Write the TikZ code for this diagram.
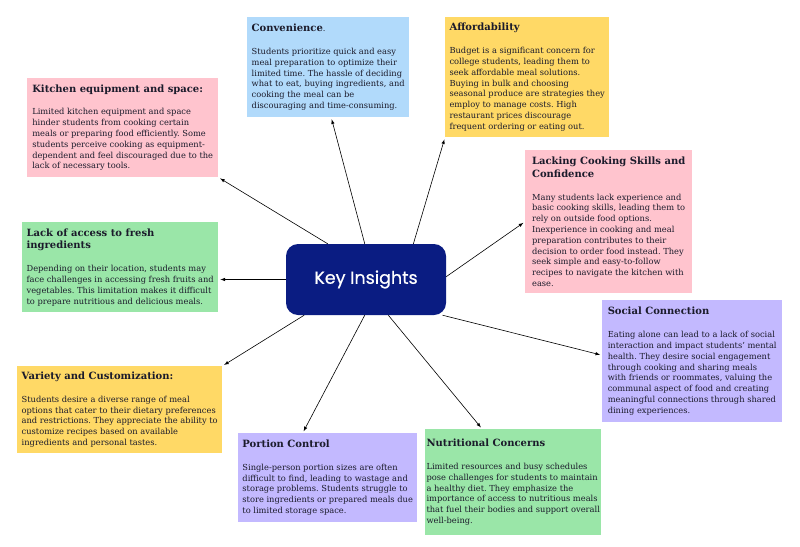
\documentclass[tikz,border=0pt]{standalone}
\usepackage{fontspec}
\setmainfont{DejaVu Serif}
\newfontfamily\keyfont{Poppins}[FakeBold=0.6]
\usetikzlibrary{arrows}

\definecolor{navy}{HTML}{0A1C82}
\definecolor{ink}{HTML}{1B1B2B}
\definecolor{boxblue}{HTML}{B1DAFB}
\definecolor{boxyellow}{HTML}{FFD966}
\definecolor{boxpink}{HTML}{FFC4CE}
\definecolor{boxgreen}{HTML}{9AE6A8}
\definecolor{boxpurple}{HTML}{C3B9FF}

\newcommand{\heading}[1]{{\fontsize{10}{13}\selectfont\bfseries #1}}

\begin{document}
\frenchspacing
\begin{tikzpicture}[x=1pt,y=-1pt,
  insight/.style={fill=#1,anchor=north west,inner xsep=3pt,inner ysep=0pt,align=left,
    text=ink,font=\fontsize{8.3}{10.8}\selectfont},
  link/.style={draw,line width=0.6pt,-latex,shorten >=2pt}]
\useasboundingbox[fill=white] (0,0) rectangle (800,546);

\node (key) [fill=navy,rounded corners=12pt,minimum width=160pt,minimum height=71pt,
  text=white,font=\keyfont\fontsize{17.5}{20}\selectfont] at (366,279.5) {Key Insights};

% top row
\node (conv) [insight=boxblue,minimum width=162pt,minimum height=100pt] at (247,17) {\heading{Convenience}.\\[12pt]
Students prioritize quick and easy\\ meal preparation to optimize their\\ limited time. The hassle of deciding\\
what to eat, buying ingredients, and\\ cooking the meal can be\\ discouraging and time-consuming.};
\node (aff) [insight=boxyellow,minimum width=164pt,minimum height=120pt] at (445,17) {\heading{Affordability}\\[12pt]
Budget is a significant concern for\\ college students, leading them to\\ seek affordable meal solutions.\\
Buying in bulk and choosing\\ seasonal produce are strategies they\\ employ to manage costs. High\\
restaurant prices discourage\\ frequent ordering or eating out.};
\node (kit) [insight=boxpink,minimum width=191pt,minimum height=99pt] at (27,78) {\heading{Kitchen equipment and space:}\\[12pt]
Limited kitchen equipment and space\\ hinder students from cooking certain\\ meals or preparing food efficiently. Some\\
students perceive cooking as equipment-\\ dependent and feel discouraged due to the\\ lack of necessary tools.};
\node (lack) [insight=boxpink,minimum width=167pt,minimum height=143pt] at (525,150) {\heading{Lacking Cooking Skills and}\\[2pt] \heading{Confidence}\\[12pt]
Many students lack experience and\\ basic cooking skills, leading them to\\ rely on outside food options.\\
Inexperience in cooking and meal\\ preparation contributes to their\\ decision to order food instead. They\\
seek simple and easy-to-follow\\ recipes to navigate the kitchen with\\ ease.};

% middle row
\node (acc) [insight=boxgreen,minimum width=196pt,minimum height=90pt] at (22,222) {\heading{Lack of access to fresh}\\[2pt] \heading{ingredients}\\[12pt]
Depending on their location, students may\\ face challenges in accessing fresh fruits and\\
vegetables. This limitation makes it difficult\\ to prepare nutritious and delicious meals.};
\node (soc) [insight=boxpurple,minimum width=180pt,minimum height=122pt] at (602,300) {\heading{Social Connection}\\[12pt]
Eating alone can lead to a lack of social\\ interaction and impact students' mental\\ health. They desire social engagement\\
through cooking and sharing meals\\ with friends or roommates, valuing the\\ communal aspect of food and creating\\
meaningful connections through shared\\ dining experiences.};

% bottom row
\node (var) [insight=boxyellow,minimum width=205pt,minimum height=87pt] at (17,366) {\heading{Variety and Customization:}\\[12pt]
Students desire a diverse range of meal\\ options that cater to their dietary preferences\\
and restrictions. They appreciate the ability to\\ customize recipes based on available\\ ingredients and personal tastes.};
\node (port) [insight=boxpurple,minimum width=179pt,minimum height=89pt] at (238,433) {\heading{Portion Control}\\[12pt]
Single-person portion sizes are often\\ difficult to find, leading to wastage and\\ storage problems. Students struggle to\\
store ingredients or prepared meals due\\ to limited storage space.};
\node (nut) [insight=boxgreen,inner xsep=1pt,minimum width=176pt,minimum height=106pt] at (425,429) {\heading{Nutritional Concerns}\\[12pt]
Limited resources and busy schedules\\ pose challenges for students to maintain\\ a healthy diet. They emphasize the\\
importance of access to nutritious meals\\ that fuel their bodies and support overall\\ well-being.};

% arrows out of the key node
\draw[link] (key.92) -- ([xshift=3pt]conv.south);
\draw[link] (key.37) -- (aff.south west);
\draw[link] (key.137) -- (kit.south east);
\draw[link] (key.2) -- (lack.west);
\draw[link] (key.west) -- (key.west -| acc.east);
\draw[link] (key.-25) -- ([yshift=6pt]soc.west);
\draw[link] (key.210) -- (var.north east);
\draw[link] (key.268) -- ([xshift=-25pt]port.north);
\draw[link] (key.-58) -- ([xshift=-31pt]nut.north);
\end{tikzpicture}
\end{document}
